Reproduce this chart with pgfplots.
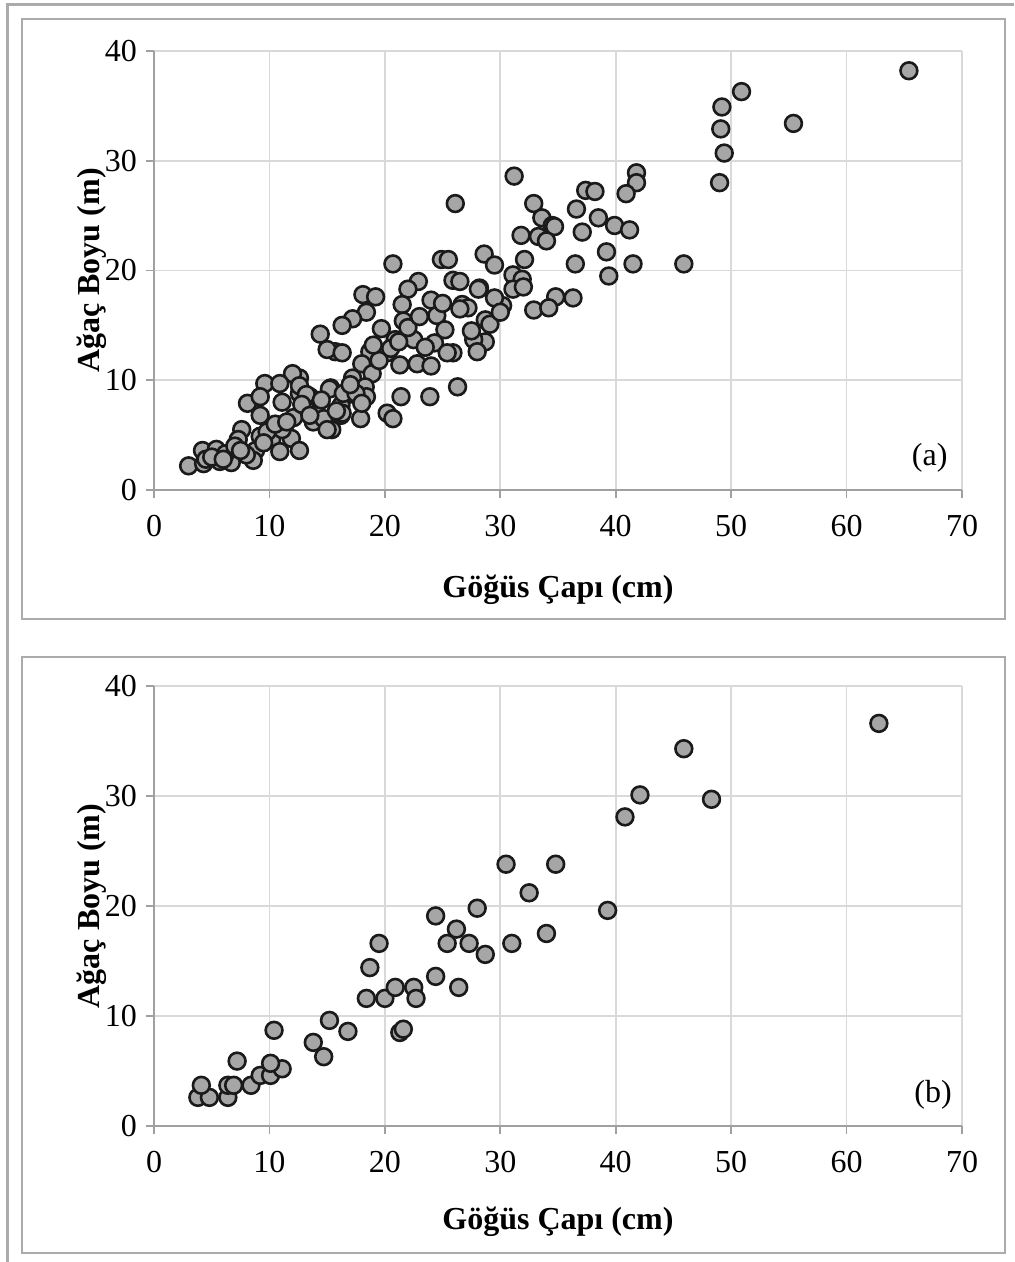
\documentclass[border=0pt]{standalone}
\usepackage{pgfplots}
\pgfplotsset{compat=1.18}
\usepackage{fontspec}
\setmainfont{Liberation Serif}
\definecolor{markfill}{HTML}{A6A6A6}
\definecolor{markdraw}{HTML}{1A1A1A}
\definecolor{gridc}{HTML}{D9D9D9}
\definecolor{axisc}{HTML}{A0A0A0}
\definecolor{framec}{HTML}{ABABAB}

\pgfplotstableread{
x y
65.4 38.2
50.9 36.3
49.2 34.9
55.4 33.4
49.1 32.9
49.4 30.7
49.0 28.0
45.9 20.6
41.8 28.9
41.8 28.0
40.9 27.0
31.2 28.6
37.4 27.3
38.2 27.2
32.9 26.1
26.1 26.1
36.6 25.6
38.5 24.8
33.6 24.8
34.5 24.1
34.7 24.0
39.9 24.1
41.2 23.7
37.1 23.5
31.8 23.2
33.3 23.1
34.0 22.7
39.2 21.7
28.6 21.5
29.5 20.5
32.1 21.0
36.5 20.6
41.5 20.6
39.4 19.5
31.1 19.6
31.9 19.2
31.1 18.3
28.2 18.4
30.2 16.8
34.8 17.6
36.3 17.5
32.9 16.4
34.2 16.6
28.7 15.5
29.1 15.1
28.7 13.5
29.5 17.5
20.7 20.6
24.9 21.0
25.5 21.0
22.9 19.0
22.0 18.3
25.9 19.1
26.5 19.0
28.1 18.3
18.1 17.8
19.2 17.6
21.5 16.9
24.0 17.3
26.7 16.9
27.2 16.6
18.4 16.2
24.5 15.9
21.6 15.4
17.2 15.6
16.3 15.0
14.4 14.2
19.7 14.7
25.2 14.6
20.9 13.7
22.5 13.7
24.3 13.4
27.7 13.7
15.7 12.6
15.0 12.8
16.3 12.5
18.7 12.6
20.2 12.5
25.9 12.5
25.4 12.5
28.0 12.6
21.3 11.4
22.8 11.5
24.0 11.3
18.0 11.5
18.9 10.6
17.2 10.2
18.3 9.4
18.4 8.5
21.4 8.5
23.9 8.5
26.3 9.4
15.3 9.3
16.8 8.7
14.0 7.6
16.2 7.7
16.2 6.8
17.9 6.5
20.2 7.0
20.7 6.5
15.4 5.5
12.6 10.2
12.6 8.8
13.5 8.5
13.2 7.3
13.8 6.2
14.7 6.5
12.0 10.6
9.6 9.7
10.9 9.7
12.6 9.5
8.1 7.9
11.1 8.0
13.2 8.7
15.2 9.2
16.4 8.8
9.2 6.8
12.1 6.6
7.6 5.5
7.3 4.6
10.8 5.5
9.2 4.9
10.2 4.6
11.9 4.7
8.8 3.6
10.9 3.5
12.6 3.6
4.2 3.6
5.4 3.7
3.0 2.2
4.3 2.4
5.7 2.6
6.7 2.5
8.6 2.7
6.2 3.3
9.2 8.5
11.1 5.5
15.0 5.5
16.3 7.0
7.0 4.0
8.0 3.2
9.8 5.3
10.5 6.0
11.5 6.2
12.8 7.8
9.5 4.3
4.5 2.8
5.0 3.0
6.0 2.8
7.5 3.6
14.5 8.2
13.5 6.8
15.8 7.2
17.5 8.8
17.0 9.6
18.0 7.9
19.5 11.8
20.5 12.9
21.2 13.5
19.0 13.2
23.5 13.0
22.0 14.8
23.0 15.8
25.0 17.0
27.5 14.5
26.5 16.5
30.0 16.2
32.0 18.5
}\dataA

\pgfplotstableread{
x y
3.8 2.6
4.8 2.6
6.4 2.6
4.1 3.7
6.4 3.7
6.9 3.7
8.4 3.7
9.2 4.6
10.1 4.6
11.1 5.2
10.1 5.7
7.2 5.9
10.4 8.7
14.7 6.3
13.8 7.6
15.2 9.6
16.8 8.6
21.3 8.5
21.6 8.8
18.4 11.6
20.0 11.6
20.9 12.6
22.5 12.6
22.7 11.6
18.7 14.4
19.5 16.6
24.4 13.6
26.4 12.6
24.4 19.1
26.2 17.9
25.4 16.6
27.3 16.6
28.7 15.6
28.0 19.8
31.0 16.6
30.5 23.8
32.5 21.2
34.0 17.5
34.8 23.8
39.3 19.6
40.8 28.1
42.1 30.1
45.9 34.3
48.3 29.7
62.8 36.6
}\dataB

\pgfplotsset{
  panel/.style={
    scale only axis,
    width=404pt,
    xmin=0, xmax=70, ymin=0, ymax=40,
    xtick={0,10,...,70}, ytick={0,10,...,40},
    axis x line*=bottom, axis y line*=left,
    axis line style={axisc, line width=0.9pt},
    tick align=outside,
    major tick length=4pt,
    tick style={axisc, line width=0.9pt},
    grid=major,
    major grid style={gridc, line width=0.8pt},
    tick label style={font=\fontsize{16}{18}\selectfont},
    /pgf/number format/assume math mode=true,
    xticklabel style={yshift=-5pt},
    yticklabel style={xshift=-1pt},
    xlabel={\textbf{Göğüs Çapı (cm)}},
    ylabel={\textbf{Ağaç Boyu (m)}},
    label style={font=\fontsize{16}{18}\selectfont},
    ylabel style={at={(axis description cs:-0.077,0.5)}, anchor=center},
    clip=false,
  },
  dots/.style={only marks, mark=*, mark size=4.2pt,
    mark options={fill=markfill, draw=markdraw, line width=1.3pt}},
}

\begin{document}
\begin{tikzpicture}
\useasboundingbox (0,0) rectangle (507pt,631pt);
% outer page border
\draw[framec, line width=1.5pt] (3.5pt,0pt) -- (3.5pt,628.5pt) -- (507pt,628.5pt);
% panel frames
\draw[framec, line width=0.8pt] (11pt,321.5pt) rectangle (502.5pt,621.5pt);
\draw[framec, line width=0.8pt] (11pt,4.5pt) rectangle (502.5pt,302.5pt);

\begin{axis}[panel, height=219.5pt, at={(77pt,386pt)}, anchor=south west,
  xlabel style={at={(axis description cs:0.5,-0.228)}, anchor=center}]
  \addplot[dots] table[x=x,y=y] {\dataA};
  \node[font=\fontsize{16}{18}\selectfont] at (axis cs:67.2,2.9) {(a)};
\end{axis}

\begin{axis}[panel, height=220pt, at={(77pt,68pt)}, anchor=south west,
  xlabel style={at={(axis description cs:0.5,-0.218)}, anchor=center}]
  \addplot[dots] table[x=x,y=y] {\dataB};
  \node[font=\fontsize{16}{18}\selectfont] at (axis cs:67.5,2.8) {(b)};
\end{axis}
\end{tikzpicture}
\end{document}
